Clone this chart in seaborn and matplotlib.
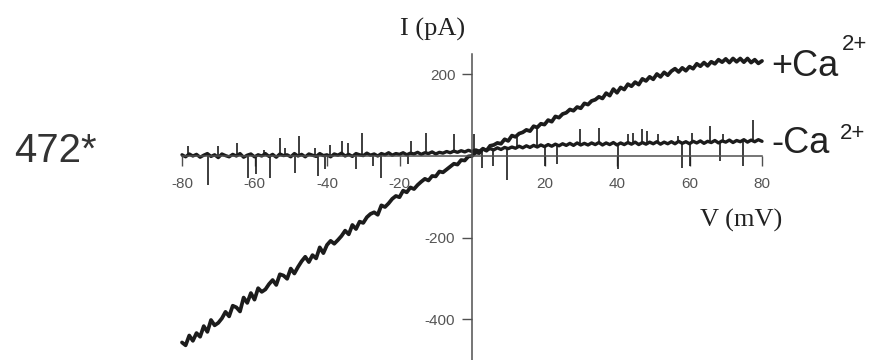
import matplotlib
matplotlib.use("Agg")
import matplotlib.pyplot as plt
import numpy as np
import pandas as pd
import seaborn as sns

# Command voltage (mV), 1 mV steps
voltage_mv = list(range(-80, 81))

# Whole-cell current with calcium present (pA)
i_plus_ca = (
    [-457, -464, -440, -453, -434, -443, -417, -431, -402, -415,
     -409, -398, -382, -393, -367, -371, -381, -347, -360, -336,
     -352, -324, -333, -327, -314, -304, -316, -290, -293, -301,
     -276, -288, -272, -258, -247, -260, -243, -251, -224, -238]
    + [-218, -208, -215, -206, -196, -183, -192, -169, -179, -161,
       -164, -150, -142, -138, -144, -121, -125, -116, -105, -98,
       -101, -85, -89, -77, -81, -71, -63, -56, -60, -49,
       -50, -38, -40, -33, -26, -19, -21, -10, -11, -1]
    + [0, 9, 7, 18, 13, 25, 27, 32, 30, 41, 37, 50, 47, 55, 58, 64, 61, 73, 70, 79,
       77, 88, 84, 97, 94, 103, 106, 114, 111, 120, 117, 129, 126, 135, 138, 145,
       141, 154, 148, 164, 155]
    + [168, 163, 176, 171, 181, 175, 189, 184, 194, 188, 201, 194, 205, 198, 208,
       214, 206, 216, 209, 219, 214, 226, 220, 229, 221, 231, 226, 236, 230, 238,
       229, 239, 231, 239, 230, 239, 229, 236, 227, 233]
)

# Whole-cell current without calcium (pA)
i_minus_ca = (
    [3, -2, 5, 0, 4, -3, 2, 6, -1, 3, -4, 5, 1, -2, 4, 0, 6, -3, 2, 5,
     -2, 3, 0, 6, -1, 4, -3, 5, 1, 3, -2, 6, 0, 4, -2, 5, 2, -1, 6, 1]
    + [3, -2, 5, 2, 7, 0, 4, -1, 6, 3, 1, 7, 2, 5, 0, 6, 3, 8, 2, 6,
       4, 8, 3, 7, 5, 9, 4, 8, 6, 10, 5, 9, 7, 11, 8, 12, 9, 13, 10, 14]
    + [11, 15, 12, 17, 14, 18, 15, 20, 16, 21, 18, 22, 19, 24, 20, 25, 21, 26, 22, 27,
       23, 28, 24, 29, 25, 30, 26, 31, 26, 32, 27, 31, 27, 32, 28, 33, 27, 32, 28, 33, 27]
    + [32, 28, 33, 29, 34, 28, 33, 29, 34, 30, 35, 29, 34, 30, 35, 30, 36, 31, 35, 30,
       36, 32, 37, 31, 36, 33, 38, 32, 37, 34, 39, 33, 38, 35, 40, 34, 39, 35, 40, 36]
)

# Brief transients on the calcium-free trace: voltage (mV) and tip current (pA)
spike_up_mv = [-78.3, -70.1, -64.9, -57.4, -53.1, -51.6, -47.8, -43.4, -39.3, -35.8,
               -34.2, -30.3, -16.9, -12.8, -4.9, 0.5, 12.4, 17.8, 29.8, 34.9,
               43.1, 44.5, 46.8, 48.2, 51.4, 56.9, 60.6, 65.7, 69.3, 77.6]
spike_up_pa = [24, 24, 31, 15, 45, 20, 49, 20, 27, 36,
               33, 57, 37, 56, 53, 55, 53, 69, 65, 69,
               53, 57, 65, 61, 53, 49, 57, 73, 53, 89]
spike_down_mv = [-72.7, -61.8, -59.5, -55.7, -48.8, -42.5, -40.6, -31.9, -27.3, -25.0,
                 -17.6, 2.7, 5.9, 9.6, 20.1, 23.4, 40.4, 57.8, 60.1, 68.4, 74.8]
spike_down_pa = [-70, -53, -45, -53, -41, -49, -33, -33, -25, -53,
                 -20, -30, -25, -58, -25, -20, -33, -29, -25, -12, -25]

x_ticks = [-80, -60, -40, -20, 20, 40, 60, 80]
y_ticks = [200, -200, -400]

sns.set_theme(style="white")
plt.rcParams["font.family"] = ["Liberation Sans", "DejaVu Sans"]
plt.rcParams["axes.unicode_minus"] = False

W, H = 877, 360
fig = plt.figure(figsize=(W / 100, H / 100), dpi=100)
ax = fig.add_axes([(472 - 82 * 3.625) / W, 0.0, 164 * 3.625 / W, 306 / H])

trace_color = "#1c1c1c"
axis_color = "#505050"

df = pd.DataFrame({"V": voltage_mv, "plus": i_plus_ca, "minus": i_minus_ca})
sns.lineplot(data=df, x="V", y="minus", ax=ax, color=trace_color, lw=2.4,
             estimator=None, sort=False)
sns.lineplot(data=df, x="V", y="plus", ax=ax, color=trace_color, lw=2.7,
             estimator=None, sort=False)

base_up = [i_minus_ca[int(round(v)) + 80] for v in spike_up_mv]
base_down = [i_minus_ca[int(round(v)) + 80] for v in spike_down_mv]
ax.vlines(spike_up_mv, base_up, spike_up_pa, color=trace_color, lw=1.2)
ax.vlines(spike_down_mv, spike_down_pa, base_down, color=trace_color, lw=1.2)

ax.set_xlim(-82, 82)
ax.set_ylim(-500, 250)
ax.set_xlabel("")
ax.set_ylabel("")

for side in ("top", "right"):
    ax.spines[side].set_visible(False)
ax.spines["left"].set_position(("data", 0))
ax.spines["bottom"].set_position(("data", 0))
ax.spines["bottom"].set_bounds(-80, 80)
for side in ("left", "bottom"):
    ax.spines[side].set_color(axis_color)
    ax.spines[side].set_linewidth(1.1)

ax.set_xticks(x_ticks)
ax.set_yticks(y_ticks)
ax.tick_params(axis="x", direction="out", length=7, width=1.0, color=axis_color,
               labelcolor="#555555", labelsize=11, pad=8, bottom=True)
ax.tick_params(axis="y", direction="out", length=7, width=1.0, color=axis_color,
               labelcolor="#555555", labelsize=11, pad=5, left=True)
ax.patch.set_alpha(0)


def px_text(x, y, s, **kw):
    fig.text(x / W, 1 - y / H, s, **kw)


serif = ["Liberation Serif", "DejaVu Serif"]
px_text(433, 36, "I (pA)", family=serif, fontsize=19, color="#222222",
        ha="center", va="baseline")
px_text(741, 227, "V (mV)", family=serif, fontsize=19, color="#222222",
        ha="center", va="baseline")
px_text(14, 162, "472*", fontsize=29, color="#333333", ha="left", va="baseline")
px_text(771, 76, "+Ca", fontsize=26, color="#222222", ha="left", va="baseline")
px_text(842, 50, "2+", fontsize=16, color="#222222", ha="left", va="baseline")
px_text(771, 153, "-Ca", fontsize=26, color="#222222", ha="left", va="baseline")
px_text(840, 139, "2+", fontsize=16, color="#222222", ha="left", va="baseline")

fig.savefig("out.png", dpi=100)
